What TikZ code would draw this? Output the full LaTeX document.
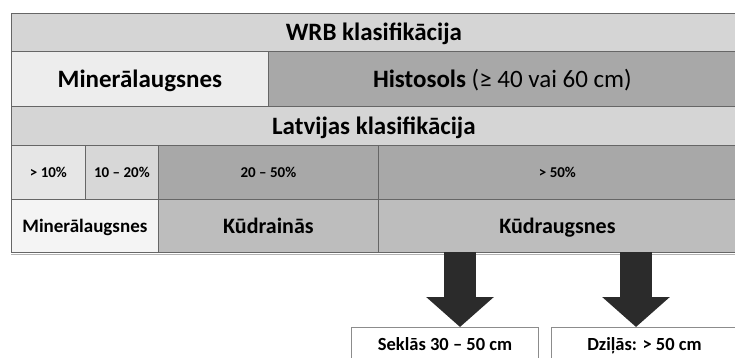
\documentclass[tikz,border=0pt]{standalone}
\usepackage{fontspec}
\setmainfont{Carlito}
\usetikzlibrary{arrows.meta,positioning}

\definecolor{gridline}{HTML}{666666}
\definecolor{headgray}{HTML}{D5D5D5}
\definecolor{palegray}{HTML}{EDEDED}
\definecolor{midgray}{HTML}{A8A8A8}
\definecolor{softgray}{HTML}{BDBDBD}
\definecolor{arrowgray}{HTML}{2B2B2B}
\definecolor{boxline}{HTML}{8C8C8C}

\tikzset{
  cellbox/.style={draw=gridline, line width=0.8pt, anchor=north west, inner sep=0pt, align=center},
  bigtxt/.style={font=\fontsize{25}{30}\selectfont\bfseries, text height=18.8pt, text depth=2.5pt},
  rowtxt/.style={font=\fontsize{22}{26}\selectfont\bfseries, text height=16.5pt, text depth=2.2pt},
  midtxt/.style={font=\fontsize{19}{23}\selectfont\bfseries, text height=14.3pt, text depth=1.9pt},
  smalltxt/.style={font=\fontsize{15}{18}\selectfont\bfseries, text height=11.3pt, text depth=1.5pt},
  boxlabel/.style={draw=boxline, line width=1pt, fill=white, anchor=north west, inner sep=0pt,
                   minimum height=34pt, text height=13.9pt, text depth=1.9pt,
                   font=\fontsize{18.5}{22}\selectfont\bfseries},
  bigarrow/.style={draw=arrowgray, line width=32pt, -{Triangle[width=66pt,length=30pt]}}
}

\begin{document}
\begin{tikzpicture}[x=1pt,y=-1pt]
\useasboundingbox (0,0) rectangle (735,358);

% WRB
\node[cellbox, bigtxt, fill=headgray, minimum width=725pt, minimum height=38pt] (wrb) at (11,13) {WRB klasifikācija};
\node[cellbox, bigtxt, fill=palegray, minimum width=257pt, minimum height=55pt] (wrbmin) at (11,51) {Minerālaugsnes};
\node[cellbox, bigtxt, fill=midgray, minimum width=468pt, minimum height=55pt] (histo) at (268,51) {Histosols \mdseries(≥ 40 vai 60 cm)};

% Latvijas
\node[cellbox, bigtxt, fill=headgray, minimum width=725pt, minimum height=39pt] (lv) at (11,106) {Latvijas klasifikācija};
\node[cellbox, smalltxt, fill=palegray!97!black, minimum width=74pt, minimum height=54pt] (p1) at (11,145) {> 10\%};
\node[cellbox, smalltxt, fill=headgray!95!white, minimum width=73pt, minimum height=54pt] (p2) at (85,145) {10 – 20\%};
\node[cellbox, smalltxt, fill=midgray, minimum width=220pt, minimum height=54pt] (p3) at (158,145) {20 – 50\%};
\node[cellbox, smalltxt, fill=midgray, minimum width=358pt, minimum height=54pt] (p4) at (378,145) {> 50\%};

\node[cellbox, midtxt, fill=palegray!60!white, minimum width=147pt, minimum height=53pt] (lvmin) at (11,199) {Minerālaugsnes};
\node[cellbox, rowtxt, fill=softgray, minimum width=220pt, minimum height=53pt] (kudrain) at (158,199) {Kūdrainās};
\node[cellbox, rowtxt, fill=softgray, minimum width=358pt, minimum height=53pt] (kudra) at (378,199) {Kūdraugsnes};
\draw[gray!60, line width=1.5pt] ([yshift=-1.5pt]lvmin.south west) -- ([yshift=-1.5pt]kudra.south east);

% depth boxes
\node[boxlabel, minimum width=187pt] (seklas) at (351,327) {Seklās 30 – 50 cm};
\node[boxlabel, minimum width=186pt] (dzilas) at (551,327) {Dziļās: > 50 cm};

\coordinate (a1) at (460,252);
\coordinate (a2) at (636,252);
\draw[bigarrow] (a1) -- (a1 |- seklas.north);
\draw[bigarrow] (a2) -- (a2 |- dzilas.north);

\end{tikzpicture}
\end{document}
